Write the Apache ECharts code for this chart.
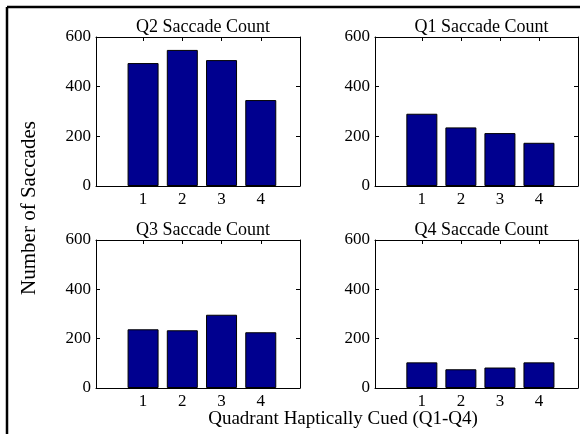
<!DOCTYPE html>
<html>
<head>
<meta charset="utf-8">
<script src="https://cdn.jsdelivr.net/npm/echarts@6/dist/echarts.min.js"></script>
<style>
  html, body { margin: 0; padding: 0; background: #fff; }
  #main { width: 580px; height: 434px; }
</style>
</head>
<body>
<div id="main"></div>
<script>
// data
var quadrants = [1, 2, 3, 4];
var q2Counts = [495, 548, 507, 346];
var q1Counts = [291, 236, 213, 174];
var q3Counts = [238, 234, 297, 226];
var q4Counts = [104, 76, 83, 104];
var panelTitles = ["Q2 Saccade Count", "Q1 Saccade Count", "Q3 Saccade Count", "Q4 Saccade Count"];
var panelCounts = [q2Counts, q1Counts, q3Counts, q4Counts];

var font = "'Liberation Serif', 'Times New Roman', serif";
var barColor = "#00008f";

// left, top, width, height of each panel box
var boxes = [
  [96, 37, 204, 149],
  [375, 37, 203, 149],
  [96, 240, 204, 148],
  [375, 240, 203, 148]
];

var chart = echarts.init(document.getElementById("main"));

var grid = [], xAxis = [], yAxis = [], series = [], title = [];

boxes.forEach(function (b, i) {
  grid.push({ left: b[0], top: b[1], width: b[2], height: b[3], containLabel: false });

  title.push({
    text: panelTitles[i],
    left: b[0] + b[2] / 2,
    top: b[1] - 24,
    textAlign: "center",
    textStyle: { fontFamily: font, fontSize: 18, fontWeight: "normal", color: "#000" }
  });

  // bottom x axis with labels
  xAxis.push({
    type: "value", gridIndex: i, position: "bottom",
    min: -0.2, max: 5,
    axisLine: { show: true, onZero: false, lineStyle: { color: "#000", width: 1 } },
    axisTick: { show: true, inside: true, length: 4, customValues: quadrants, lineStyle: { color: "#000" } },
    axisLabel: { show: true, customValues: quadrants, margin: 5, fontFamily: font, fontSize: 17, color: "#000" },
    splitLine: { show: false }
  });
  // top x axis, ticks only
  xAxis.push({
    type: "value", gridIndex: i, position: "top",
    min: -0.2, max: 5,
    axisLine: { show: true, onZero: false, lineStyle: { color: "#000", width: 1 } },
    axisTick: { show: true, inside: true, length: 4, customValues: quadrants, lineStyle: { color: "#000" } },
    axisLabel: { show: false },
    splitLine: { show: false }
  });

  yAxis.push({
    type: "value", gridIndex: i, position: "left",
    min: 0, max: 600, interval: 200,
    axisLine: { show: true, onZero: false, lineStyle: { color: "#000", width: 1 } },
    axisTick: { show: true, inside: true, length: 4, lineStyle: { color: "#000" } },
    axisLabel: { show: true, margin: 5, fontFamily: font, fontSize: 17, color: "#000" },
    splitLine: { show: false }
  });
  yAxis.push({
    type: "value", gridIndex: i, position: "right",
    min: 0, max: 600, interval: 200,
    axisLine: { show: true, onZero: false, lineStyle: { color: "#000", width: 1 } },
    axisTick: { show: true, inside: true, length: 4, lineStyle: { color: "#000" } },
    axisLabel: { show: false },
    splitLine: { show: false }
  });

  series.push({
    type: "bar",
    xAxisIndex: 2 * i,
    yAxisIndex: 2 * i,
    barWidth: 31,
    itemStyle: { color: barColor, borderColor: "#000", borderWidth: 1 },
    data: quadrants.map(function (q, j) { return [q, panelCounts[i][j]]; })
  });
});

var option = {
  backgroundColor: "#fff",
  animation: false,
  title: title,
  grid: grid,
  xAxis: xAxis,
  yAxis: yAxis,
  series: series,
  graphic: [
    // frame edges of the cropped figure
    { type: "line", shape: { x1: 7, y1: 7, x2: 580, y2: 7 }, style: { stroke: "#000", lineWidth: 2.5 } },
    { type: "line", shape: { x1: 7, y1: 7, x2: 7, y2: 434 }, style: { stroke: "#000", lineWidth: 2.5 } },
    {
      type: "text", x: 29, y: 208, rotation: Math.PI / 2,
      style: { text: "Number of Saccades", font: "21px " + font, fill: "#000", textAlign: "center", textVerticalAlign: "middle" }
    },
    {
      type: "text", x: 343, y: 419,
      style: { text: "Quadrant Haptically Cued (Q1-Q4)", font: "19px " + font, fill: "#000", textAlign: "center", textVerticalAlign: "middle" }
    }
  ]
};

chart.setOption(option);
</script>
</body>
</html>
